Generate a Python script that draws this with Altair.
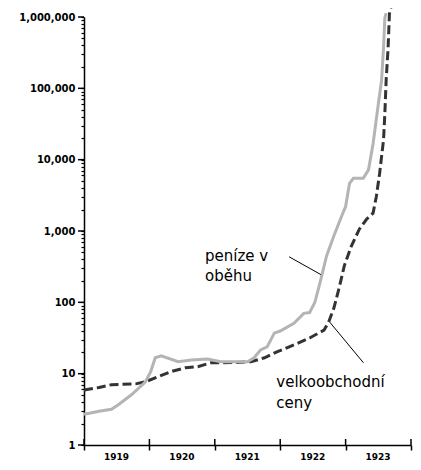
import altair as alt
import pandas as pd

# money in circulation (peníze v oběhu)
years_money = [1919.0, 1919.08, 1919.23, 1919.42, 1919.53, 1919.73, 1919.94, 1920.02, 1920.09,
               1920.18, 1920.44, 1920.64, 1920.89, 1921.09, 1921.5, 1921.6, 1921.7, 1921.8,
               1921.91, 1922.0, 1922.21, 1922.36, 1922.45, 1922.53, 1922.61, 1922.71, 1922.82,
               1922.94, 1923.0, 1923.06, 1923.12, 1923.27, 1923.35, 1923.42, 1923.5, 1923.55,
               1923.58, 1923.6, 1923.62]
values_money = [2.7, 2.78, 2.97, 3.16, 3.7, 5.1, 7.7, 10.7, 16.7,
                17.8, 14.7, 15.6, 16.1, 14.7, 14.7, 16.7, 21.5, 23.7,
                37, 39.6, 51, 70, 72, 100, 190, 450, 850,
                1620, 2200, 4640, 5470, 5470, 7200, 16700, 60000, 130000,
                370000, 970000, 1130000]

# wholesale prices (velkoobchodní ceny)
years_prices = [1919.0, 1919.23, 1919.42, 1919.79, 1919.94, 1920.14, 1920.33, 1920.55, 1920.74,
                1920.94, 1921.09, 1921.3, 1921.55, 1921.76, 1921.95, 1922.21, 1922.45, 1922.67,
                1922.74, 1922.82, 1922.91, 1922.98, 1923.09, 1923.21, 1923.32, 1923.42, 1923.47,
                1923.52, 1923.58, 1923.6, 1923.62, 1923.65, 1923.67, 1923.7]
values_prices = [5.9, 6.4, 7.0, 7.2, 7.7, 9.1, 10.7, 12.1, 12.5,
                 14.2, 14.2, 14.3, 14.7, 16.7, 20.2, 25.3, 31.6, 40.8,
                 52.7, 82.5, 172, 325, 620, 1060, 1460, 1780, 3050,
                 6400, 19000, 44000, 130000, 370000, 1100000, 1470000]

# annotation labels
label_text = ["peníze v", "oběhu", "velkoobchodní", "ceny"]
label_year = [1920.85, 1920.85, 1921.94, 1921.94]
label_value = [383, 196, 6.4, 3.26]

# pointer lines
pointer_year = [1922.136, 1922.758]
pointer_value = [435, 52.7]
pointer_year2 = [1922.621, 1923.273]
pointer_value2 = [245, 14.2]

year_ticks = [1919, 1920, 1921, 1922, 1923, 1924]
decades = [1, 10, 100, 1000, 10000, 100000, 1000000]
y_ticks = [k * 10 ** e for e in range(6) for k in range(1, 10)] + [1000000]

money = pd.DataFrame({"year": years_money, "value": values_money})
prices = pd.DataFrame({"year": years_prices, "value": values_prices})
labels = pd.DataFrame({"year": label_year, "value": label_value, "text": label_text})
pointers = pd.DataFrame({"year": pointer_year, "value": pointer_value,
                         "year2": pointer_year2, "value2": pointer_value2})
major_ticks = pd.DataFrame({"value": decades})
year_marks = pd.DataFrame({"year": year_ticks})

W, H = 327, 428
xscale = alt.Scale(domain=[1919, 1924], nice=False, zero=False)
yscale = alt.Scale(type="log", domain=[1, 1000000], nice=False)

FONT = "DejaVu Sans"
DEC = "indexof([1,10,100,1000,10000,100000,1000000], datum.value) >= 0"

x_axis = alt.Axis(values=year_ticks, title=None, grid=False,
                  labelExpr="datum.value < 1924 ? format(datum.value, 'd') : ''",
                  labelOffset=32, labelOverlap=False, labelFlush=False,
                  labelFont=FONT, labelFontSize=9, labelFontWeight="bold",
                  labelColor="black", labelPadding=2)

y_axis = alt.Axis(values=y_ticks, title=None, grid=False,
                  labelExpr=DEC + " ? format(datum.value, ',') : ''",
                  labelFont=FONT, labelFontSize=10, labelFontWeight="bold",
                  labelColor="black", labelPadding=6, labelOverlap=False)

prices_line = alt.Chart(prices).mark_line(
    color="#333333", strokeWidth=3, strokeDash=[9, 4], clip=False
).encode(
    x=alt.X("year:Q", scale=xscale, axis=x_axis),
    y=alt.Y("value:Q", scale=yscale, axis=y_axis),
)

money_line = alt.Chart(money).mark_line(
    color="#b4b4b4", strokeWidth=3, clip=False
).encode(
    x=alt.X("year:Q", scale=xscale, title=None),
    y=alt.Y("value:Q", scale=yscale, title=None),
)

pointer_rules = alt.Chart(pointers).mark_rule(color="black", strokeWidth=1).encode(
    x=alt.X("year:Q", scale=xscale, title=None),
    y=alt.Y("value:Q", scale=yscale, title=None),
    x2="year2:Q",
    y2="value2:Q",
)

# longer ticks at the decades
decade_ticks = alt.Chart(major_ticks).mark_rule(color="black", strokeWidth=1.5, clip=False).encode(
    y=alt.Y("value:Q", scale=yscale, title=None),
    x=alt.value(-6),
    x2=alt.value(0),
)

# upward half of the year ticks
year_up_ticks = alt.Chart(year_marks).mark_rule(color="black", strokeWidth=1.5, clip=False).encode(
    x=alt.X("year:Q", scale=xscale, title=None),
    y=alt.value(H - 6),
    y2=alt.value(H),
)

text_marks = alt.Chart(labels).mark_text(
    align="left", baseline="alphabetic", font=FONT, fontSize=15, color="black"
).encode(
    x=alt.X("year:Q", scale=xscale, title=None),
    y=alt.Y("value:Q", scale=yscale, title=None),
    text="text:N",
)

chart = alt.layer(prices_line, money_line, pointer_rules, decade_ticks, year_up_ticks,
                  text_marks).properties(
    width=W, height=H,
    autosize=alt.AutoSizeParams(type="none"),
    padding={"top": 9, "left": 76, "right": 2, "bottom": 15},
    background="white",
).configure_view(stroke=None).configure_axis(
    ticks=True, tickWidth=1.5, tickColor="black",
    domainColor="black", domainWidth=1.5
).configure_axisX(tickSize=5).configure_axisY(tickSize=3, tickWidth=1.2)

chart.save("out.html", embed_options={"renderer": "svg", "actions": False})
